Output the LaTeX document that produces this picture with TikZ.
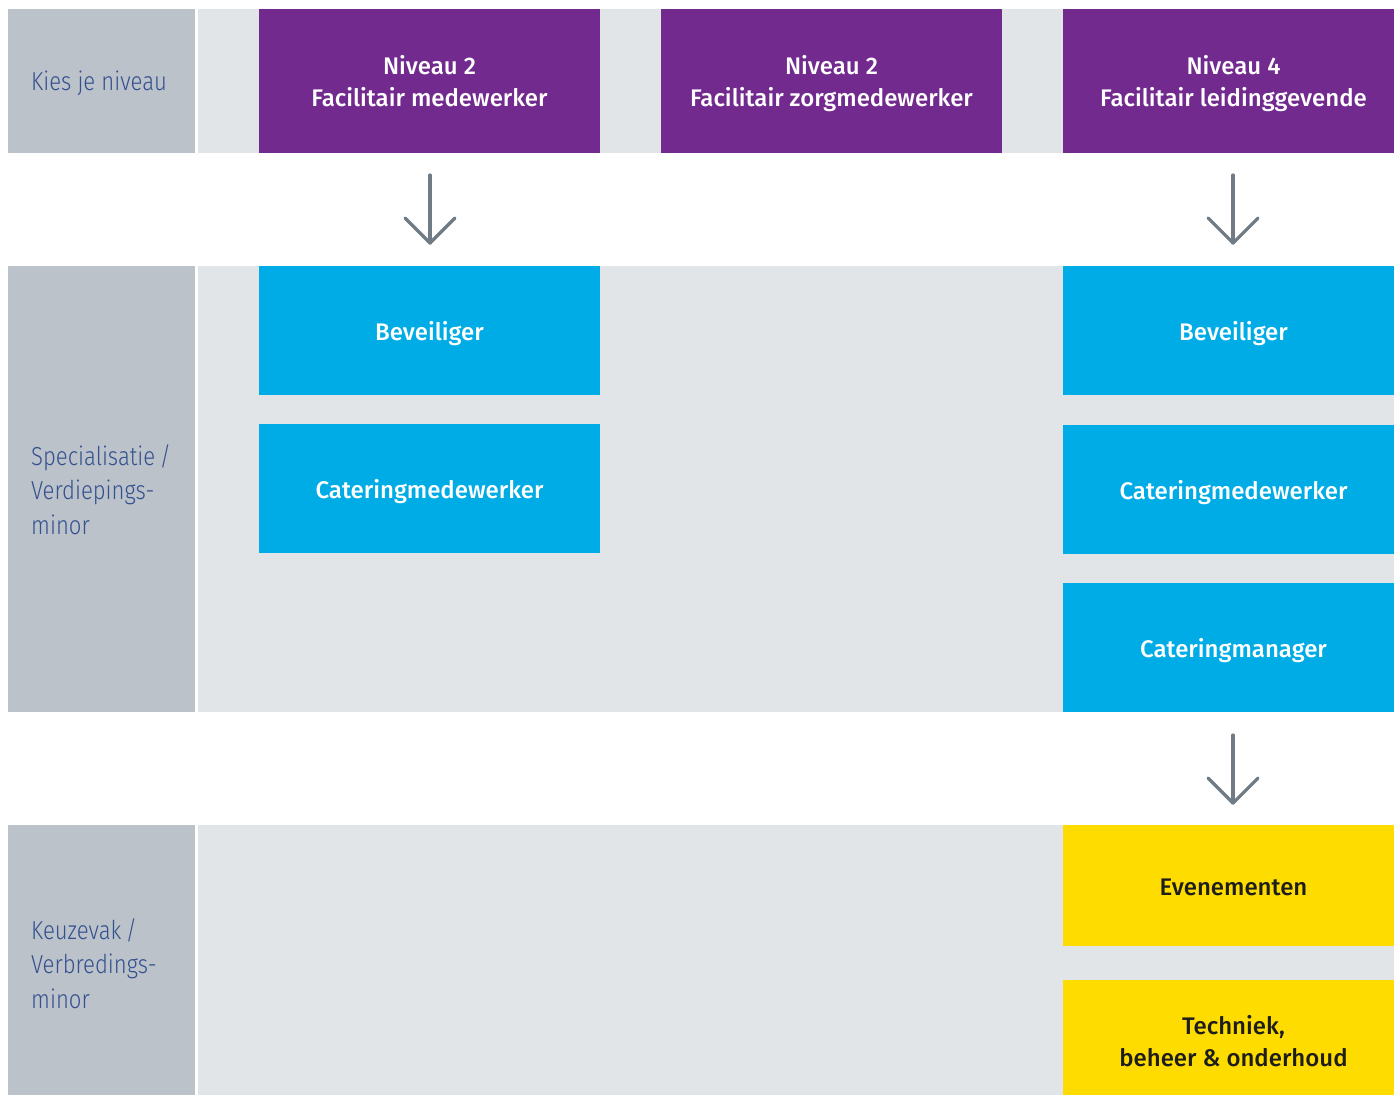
\documentclass[tikz,border=0pt]{standalone}
\usepackage{fontspec}
\setmainfont{Fira Sans}
\newfontfamily\lightfont[FakeStretch=0.85]{Fira Sans Light}
\newfontfamily\medfont{Fira Sans Medium}
\definecolor{purp}{HTML}{722A8F}
\definecolor{cyanb}{HTML}{00ACE6}
\definecolor{yell}{HTML}{FFDC00}
\definecolor{darkg}{HTML}{BBC2CA}
\definecolor{lightg}{HTML}{E1E5E8}
\definecolor{arrowg}{HTML}{6F7B85}
\definecolor{labelc}{HTML}{34508F}
\definecolor{darktext}{HTML}{1D1D1B}
\begin{document}
\begin{tikzpicture}[x=1pt,y=-1pt,
  boxshape/.style={inner sep=0pt,outer sep=0pt,draw=none},
  boxtext/.style={anchor=base,inner sep=0pt,font=\medfont\fontsize{24}{32}\selectfont},
  whitetext/.style={boxtext,text=white},
  darktextst/.style={boxtext,text=darktext},
  sidelabel/.style={anchor=base west,inner sep=0pt,text=labelc,font=\lightfont\fontsize{26}{34.5}\selectfont},
  downarrow/.style={draw=arrowg,line width=3.2pt,line cap=round,line join=round}
]
\useasboundingbox (0,0) rectangle (1394,1095);
\fill[white] (0,0) rectangle (1394,1095);
% bands
\fill[darkg] (8,9) rectangle (195,153);
\fill[lightg] (198,9) rectangle (1394,153);
\fill[darkg] (8,266) rectangle (195,712);
\fill[lightg] (198,266) rectangle (1394,712);
\fill[darkg] (8,825) rectangle (195,1095);
\fill[lightg] (198,825) rectangle (1394,1095);
% side labels
\node[sidelabel] (l1) at (31,90.7) {Kies je niveau};
\node[sidelabel] (l2a) at (31,465) {Specialisatie\,/};
\node[sidelabel] (l2b) at (31,499.5) {Verdiepings-};
\node[sidelabel] (l2c) at (31,534) {minor};
\node[sidelabel] (l3a) at (31,939) {Keuzevak\,/};
\node[sidelabel] (l3b) at (31,973.5) {Verbredings-};
\node[sidelabel] (l3c) at (31,1008) {minor};
% purple boxes
\path[fill=purp] (259,9) rectangle node[boxshape] (p1) {} (600,153);
\path[fill=purp] (661,9) rectangle node[boxshape] (p2) {} (1002,153);
\path[fill=purp] (1063,9) rectangle node[boxshape] (p3) {} (1394,153);
\node[whitetext] (p1a) at (429.5,74.3) {Niveau 2};
\node[whitetext] (p1b) at (429.5,106) {Facilitair medewerker};
\node[whitetext] (p2a) at (831.5,74.3) {Niveau 2};
\node[whitetext] (p2b) at (831.5,106) {Facilitair zorgmedewerker};
\node[whitetext] (p3a) at (1233.5,74.3) {Niveau 4};
\node[whitetext] (p3b) at (1233.5,106) {Facilitair leidinggevende};
% blue boxes
\path[fill=cyanb] (259,266) rectangle node[boxshape] (b1) {} (600,395);
\path[fill=cyanb] (259,424) rectangle node[boxshape] (b2) {} (600,553);
\path[fill=cyanb] (1063,266) rectangle node[boxshape] (b3) {} (1394,395);
\path[fill=cyanb] (1063,425) rectangle node[boxshape] (b4) {} (1394,554);
\path[fill=cyanb] (1063,583) rectangle node[boxshape] (b5) {} (1394,712);
\node[whitetext] (b1t) at (429.5,340) {Beveiliger};
\node[whitetext] (b2t) at (429.5,498) {Cateringmedewerker};
\node[whitetext] (b3t) at (1233.5,340) {Beveiliger};
\node[whitetext] (b4t) at (1233.5,499) {Cateringmedewerker};
\node[whitetext] (b5t) at (1233.5,657) {Cateringmanager};
% yellow boxes
\path[fill=yell] (1063,825) rectangle node[boxshape] (y1) {} (1394,946);
\path[fill=yell] (1063,980) rectangle node[boxshape] (y2) {} (1394,1095);
\node[darktextst] (y1t) at (1233.5,895) {Evenementen};
\node[darktextst] (y2a) at (1233.5,1034) {Techniek,};
\node[darktextst] (y2b) at (1233.5,1066) {beheer \& onderhoud};
% arrows
\coordinate (a1s) at (430,175);
\coordinate (a1e) at (430,243);
\draw[downarrow] (a1s) -- (a1e);
\draw[downarrow] (405,218) -- (a1e) -- (455,218);
\coordinate (a2s) at (1233,175);
\coordinate (a2e) at (1233,243);
\draw[downarrow] (a2s) -- (a2e);
\draw[downarrow] (1208,218) -- (a2e) -- (1258,218);
\coordinate (a3s) at (1233,735);
\coordinate (a3e) at (1233,803);
\draw[downarrow] (a3s) -- (a3e);
\draw[downarrow] (1208,778) -- (a3e) -- (1258,778);
\end{tikzpicture}
\end{document}
